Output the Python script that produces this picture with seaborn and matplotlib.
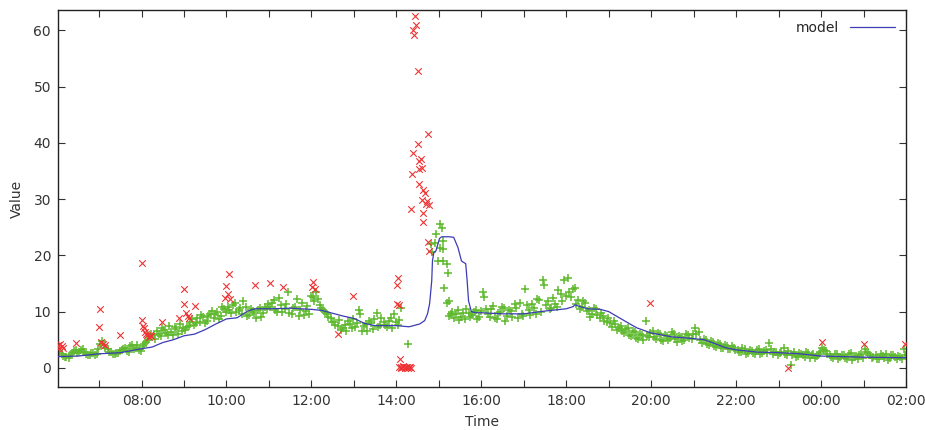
import numpy as np
import pandas as pd
import seaborn as sns
import matplotlib.pyplot as plt
import matplotlib.dates as mdates

nan = np.nan

# =======================================================
#   DATOS
# =======================================================

# puntos normales (verde), cada 5 minutos desde las 06:02
green_start = "06:02"
green_vals = (
    [3.0, 2.4, 2.0, 1.8, 2.6, 3.1, 2.8, 3.3, 2.5, 2.3, 2.7, 2.4]          # 06
    + [4.3, 4.0, 3.3, 2.9, 2.4, 2.7, 3.1, 3.6, 2.9, 4.0, 3.5, 3.2]        # 07
    + [3.8, 4.6, 5.4, 5.9, 6.5, 5.6, 6.8, 5.9, 6.3, 7.2, 6.0, 6.6]        # 08
    + [6.8, 7.5, 8.6, 7.9, 8.2, 9.1, 8.4, 9.6, 8.8, 9.9, 9.3, 10.4]       # 09
    + [10.9, 9.8, 11.5, 10.3, 9.6, 10.8, 9.4, 10.1, 8.9, 10.6, 9.7, 10.4] # 10
    + [10.8, 12.1, 9.9, 11.2, 10.4, 13.4, 9.6, 10.9, 9.2, 11.6, 10.1, 9.5] # 11
    + [12.6, 13.5, 11.2, 10.3, 9.6, 8.8, 8.1, 7.4, 6.8, 7.6, 8.3, 7.1]    # 12
    + [7.2, 10.2, 6.5, 7.8, 8.4, 6.9, 9.8, 7.6, 8.2, 7.3, 8.8, 9.5]       # 13
    + [7.6, 10.6, nan, 4.3, nan, nan, nan, nan, nan, nan, nan, nan]      # 14
    + [nan, nan, nan, 9.6, 8.9, 10.3, 9.1, 8.6, 9.8, 9.4, 10.2, 9.0]     # 15
    + [13.5, 10.4, 9.1, 11.0, 8.6, 9.9, 10.7, 9.3, 10.1, 11.3, 8.8, 9.6] # 16
    + [14.0, 10.2, 11.4, 9.6, 12.0, 15.6, 11.1, 10.4, 12.5, 10.8, 13.2, 15.7] # 17
    + [16.0, 12.6, 14.2, 12.0, 10.8, 11.5, 10.2, 9.6, 10.5, 8.9, 9.3, 8.2] # 18
    + [7.9, 8.4, 6.8, 7.4, 6.2, 7.0, 5.6, 6.3, 5.1, 5.9, 8.4, 5.4]        # 19
    + [6.6, 5.2, 6.1, 4.8, 5.7, 5.3, 6.0, 4.6, 5.5, 5.0, 5.8, 5.1]        # 20
    + [7.0, 6.4, 4.5, 4.9, 4.0, 4.6, 3.7, 4.2, 3.5, 3.9, 3.3, 3.6]        # 21
    + [3.2, 2.8, 3.4, 2.6, 3.0, 2.4, 3.3, 2.7, 3.1, 4.5, 2.5, 2.9]        # 22
    + [2.6, 3.5, 2.2, 0.5, 2.8, 2.1, 2.5, 1.9, 2.7, 2.3, 1.8, 2.4]        # 23
    + [3.6, 3.0, 2.2, 1.7, 2.5, 1.9, 2.3, 1.5, 2.6, 2.0, 1.6, 2.4]        # 00
    + [3.4, 2.6, 1.8, 2.3, 1.5, 2.1, 2.5, 1.7, 2.2, 1.6, 2.0, 3.4]        # 01
)

# segunda serie de puntos normales, desplazada dos minutos y medio
green_start_b = "06:04"
green_vals_b = (
    [2.7, 2.1, 1.9, 2.3, 3.0, 2.6, 3.2, 2.8, 2.2, 2.6, 2.3, 3.4]          # 06
    + [4.8, 3.6, 2.8, 2.5, 2.6, 3.0, 3.4, 3.0, 3.8, 3.3, 4.1, 3.0]        # 07
    + [4.2, 5.0, 6.1, 5.2, 6.0, 7.0, 6.2, 7.5, 5.8, 6.9, 7.8, 7.0]        # 08
    + [7.3, 8.1, 7.6, 8.9, 9.4, 8.0, 9.2, 10.1, 9.5, 8.7, 10.8, 9.9]      # 09
    + [10.2, 11.1, 9.9, 10.7, 11.8, 9.2, 10.5, 9.8, 10.3, 9.1, 10.8, 11.3] # 10
    + [11.5, 10.3, 12.4, 10.0, 11.4, 9.8, 10.6, 12.2, 10.3, 9.4, 11.0, 12.8] # 11
    + [11.8, 12.2, 10.7, 9.9, 9.0, 8.2, 7.6, 8.5, 7.0, 6.5, 7.8, 8.6]     # 12
    + [8.0, 9.6, 7.4, 6.6, 7.9, 8.6, 7.2, 8.9, 7.7, 8.4, 7.0, 8.1]        # 13
    + [8.5, nan, nan, nan, nan, nan, nan, nan, nan, nan, nan, nan]       # 14
    + [nan, nan, 9.2, 10.0, 9.5, 8.5, 9.7, 10.4, 9.0, 9.9, 8.7, 10.1]    # 15
    + [12.6, 9.5, 10.4, 8.9, 9.7, 10.9, 8.4, 10.2, 9.0, 10.6, 11.6, 9.3] # 16
    + [11.2, 9.4, 10.7, 12.3, 10.0, 14.8, 11.8, 10.6, 11.4, 13.8, 11.9, 12.7] # 17
    + [13.4, 14.0, 11.3, 10.4, 11.9, 10.1, 9.1, 10.6, 9.4, 9.8, 8.4, 8.8] # 18
    + [7.3, 7.8, 7.1, 6.5, 6.9, 5.8, 6.6, 5.3, 6.1, 4.9, 5.6, 6.2]        # 19
    + [5.4, 6.2, 5.0, 5.9, 4.9, 6.3, 5.1, 5.6, 4.8, 6.1, 5.3, 6.0]        # 20
    + [6.1, 4.9, 5.2, 4.3, 4.8, 3.9, 4.4, 3.6, 4.1, 3.4, 3.8, 3.1]        # 21
    + [2.9, 3.5, 2.5, 3.1, 2.7, 3.2, 2.4, 3.0, 2.6, 3.3, 2.8, 2.3]        # 22
    + [2.9, 2.4, 3.0, 2.3, 2.0, 2.6, 2.2, 2.8, 1.7, 2.5, 2.1, 2.9]        # 23
    + [3.1, 2.5, 1.9, 2.4, 1.6, 2.2, 1.8, 2.5, 1.4, 2.1, 2.3, 1.7]        # 00
    + [2.8, 2.2, 2.0, 1.6, 2.4, 1.8, 1.4, 2.3, 1.9, 2.1, 1.5, 2.2]        # 01
)

# puntos normales alrededor del pico
peak_green_times = ["14:49", "14:51", "14:54", "14:56", "14:59", "15:01", "15:01",
                    "15:04", "15:06", "15:06", "15:06", "15:08", "15:11", "15:11",
                    "15:13", "15:15"]
peak_green_vals = [22.0, 20.6, 22.2, 23.8, 19.0, 25.6, 21.3,
                   24.9, 22.6, 21.2, 19.0, 14.2, 18.5, 11.6,
                   16.9, 11.9]

# anomalías (rojo)
red_times = ["06:02", "06:03", "06:05", "06:07", "06:09", "06:28",
             "07:00", "07:01", "07:03", "07:05", "07:09", "07:29",
             "08:00", "08:01", "08:02", "08:03", "08:05", "08:06", "08:08",
             "08:10", "08:12", "08:14", "08:29", "08:53",
             "09:00", "09:00", "09:03", "09:06", "09:07", "09:15",
             "09:58", "09:59", "10:02", "10:04", "10:05",
             "10:40", "11:01", "11:20",
             "12:01", "12:02", "12:05", "12:38", "12:59",
             "14:01", "14:01", "14:03", "14:04", "14:05",
             "14:04", "14:06", "14:07", "14:09", "14:10", "14:12",
             "14:13", "14:15", "14:16", "14:18", "14:19", "14:21",
             "14:21", "14:22", "14:24", "14:24", "14:25", "14:27", "14:28",
             "14:30", "14:30", "14:32", "14:32", "14:32", "14:35", "14:36",
             "14:36", "14:38", "14:38", "14:38", "14:41", "14:42", "14:44",
             "14:45", "14:45", "14:46", "14:46",
             "19:59", "23:14", "00:01", "01:00", "01:59"]
red_vals = [4.0, 3.6, 4.3, 3.8, 3.5, 4.5,
            7.3, 10.5, 4.6, 4.3, 4.0, 5.9,
            18.7, 8.5, 7.5, 7.0, 6.3, 6.0, 5.8,
            5.5, 5.8, 5.6, 8.2, 8.9,
            14.1, 11.4, 9.8, 9.3, 8.9, 11.0,
            12.5, 14.6, 13.2, 16.7, 12.3,
            14.8, 15.0, 14.3,
            14.3, 15.3, 14.0, 6.0, 12.8,
            14.8, 11.4, 16.0, 11.2, 1.6,
            0.1, 0.2, 0.0, 0.1, 0.3, 0.0,
            0.2, 0.1, 0.0, 0.2, 0.1, 0.0,
            28.3, 34.5, 60.0, 38.1, 59.1, 62.5, 61.0,
            52.8, 39.7, 36.8, 35.4, 32.6, 37.2, 35.6,
            29.9, 31.6, 27.6, 26.0, 31.0, 29.1, 29.7,
            41.5, 22.3, 29.0, 20.7,
            11.6, -0.1, 4.6, 4.2, 4.2]

# modelo (línea azul)
model_times = ["06:02", "06:30", "07:00", "07:30", "08:00", "08:15", "08:30", "08:45",
               "09:00", "09:15", "09:30", "09:45", "10:00", "10:15", "10:30", "10:40",
               "11:00", "11:30", "12:00", "12:15", "12:30", "12:45", "13:00", "13:15",
               "13:30", "14:00", "14:18", "14:33", "14:40", "14:44", "14:47", "14:50",
               "14:51", "14:53", "14:56", "14:58", "15:01", "15:04", "15:15", "15:21",
               "15:27", "15:32", "15:38", "15:40", "15:42", "15:46", "15:52", "16:00",
               "16:30", "17:00", "17:30", "18:00", "18:10", "18:12", "18:30", "18:48",
               "19:00", "19:15", "19:30", "19:40", "20:00", "20:30", "21:00", "21:15",
               "21:30", "21:45", "22:00", "22:30", "23:00", "23:30", "00:00", "00:30",
               "01:00", "02:00"]
model_vals = [2.0, 2.1, 2.5, 2.7, 3.4, 3.7, 4.5, 5.0,
              5.7, 6.0, 6.8, 7.8, 8.7, 8.9, 10.1, 10.5,
              10.5, 10.6, 10.4, 10.2, 9.7, 9.2, 8.8, 7.9,
              7.5, 7.5, 7.3, 7.8, 8.4, 9.6, 11.4, 15.5,
              19.0, 20.5, 20.8, 21.7, 23.0, 23.3, 23.3, 23.2,
              21.4, 19.0, 18.5, 15.5, 11.9, 10.0, 9.8, 9.8,
              9.6, 9.6, 10.1, 10.5, 10.9, 11.2, 10.5, 10.4,
              10.0, 8.9, 7.8, 7.1, 6.2, 5.5, 5.2, 5.0,
              4.3, 3.6, 3.2, 2.8, 2.7, 2.5, 2.1, 2.0,
              1.9, 1.8]

y_ticks = [0, 10, 20, 30, 40, 50, 60]


def a_fecha(hhmm):
    """Convierte 'HH:MM' en Timestamp; antes de las 06:00 es el día siguiente."""
    h, m = map(int, hhmm.split(":"))
    dia = 2 if h < 6 else 1
    return pd.Timestamp(2024, 1, dia, h, m)


def serie_regular(inicio, valores):
    """DataFrame de una serie cada 5 minutos a partir de 'inicio'."""
    return pd.DataFrame({
        "t": pd.date_range(a_fecha(inicio), periods=len(valores), freq="5min"),
        "v": valores,
    }).dropna()


# =======================================================
#   GRÁFICO
# =======================================================

VERDE = "#5fb92e"
ROJO = "#ee3333"
AZUL = "#3c3cb4"

sns.set_theme(style="ticks")
plt.rcParams['font.family'] = ['DejaVu Sans']

df_peak = pd.DataFrame({"t": [a_fecha(t) for t in peak_green_times], "v": peak_green_vals})
df_green = pd.concat([serie_regular(green_start, green_vals),
                      serie_regular(green_start_b, green_vals_b),
                      df_peak], ignore_index=True)
df_red = pd.DataFrame({"t": [a_fecha(t) for t in red_times], "v": red_vals})
df_model = pd.DataFrame({"t": [a_fecha(t) for t in model_times], "v": model_vals})

fig = plt.figure(figsize=(9.25, 4.3), dpi=100)
ax = fig.add_axes([58 / 925, 43 / 430, 848 / 925, 377 / 430])

sns.scatterplot(data=df_green, x="t", y="v", marker="+", s=28, color=VERDE,
                linewidth=1.1, legend=False, ax=ax, zorder=2)
sns.scatterplot(data=df_red, x="t", y="v", marker="x", s=22, color=ROJO,
                linewidth=0.8, legend=False, ax=ax, zorder=3)
sns.lineplot(data=df_model, x="t", y="v", color=AZUL, linewidth=0.9,
             label="model", ax=ax, zorder=4)

ax.set_xlim(a_fecha("06:02"), a_fecha("02:00"))
ax.set_ylim(-3.4, 63.6)
ax.set_yticks(y_ticks)

ax.xaxis.set_major_locator(mdates.HourLocator(byhour=range(0, 24, 2)))
ax.xaxis.set_minor_locator(mdates.HourLocator(byhour=range(1, 24, 2)))
ax.xaxis.set_major_formatter(mdates.DateFormatter("%H:%M"))

ax.tick_params(which="both", direction="in", top=True, right=True,
               length=5, width=0.8, colors="#333333", labelsize=10, pad=5)
for lado in ax.spines.values():
    lado.set_visible(True)
    lado.set_color("#222222")
    lado.set_linewidth(1.0)

ax.set_xlabel("Time", fontsize=10, color="#333333", labelpad=5)
ax.set_ylabel("Value", fontsize=10, color="#333333", labelpad=7)

ax.legend(loc="upper right", frameon=False, markerfirst=False, fontsize=10,
          handlelength=3.2, borderaxespad=0.4)

fig.savefig("out.png", dpi=100)
